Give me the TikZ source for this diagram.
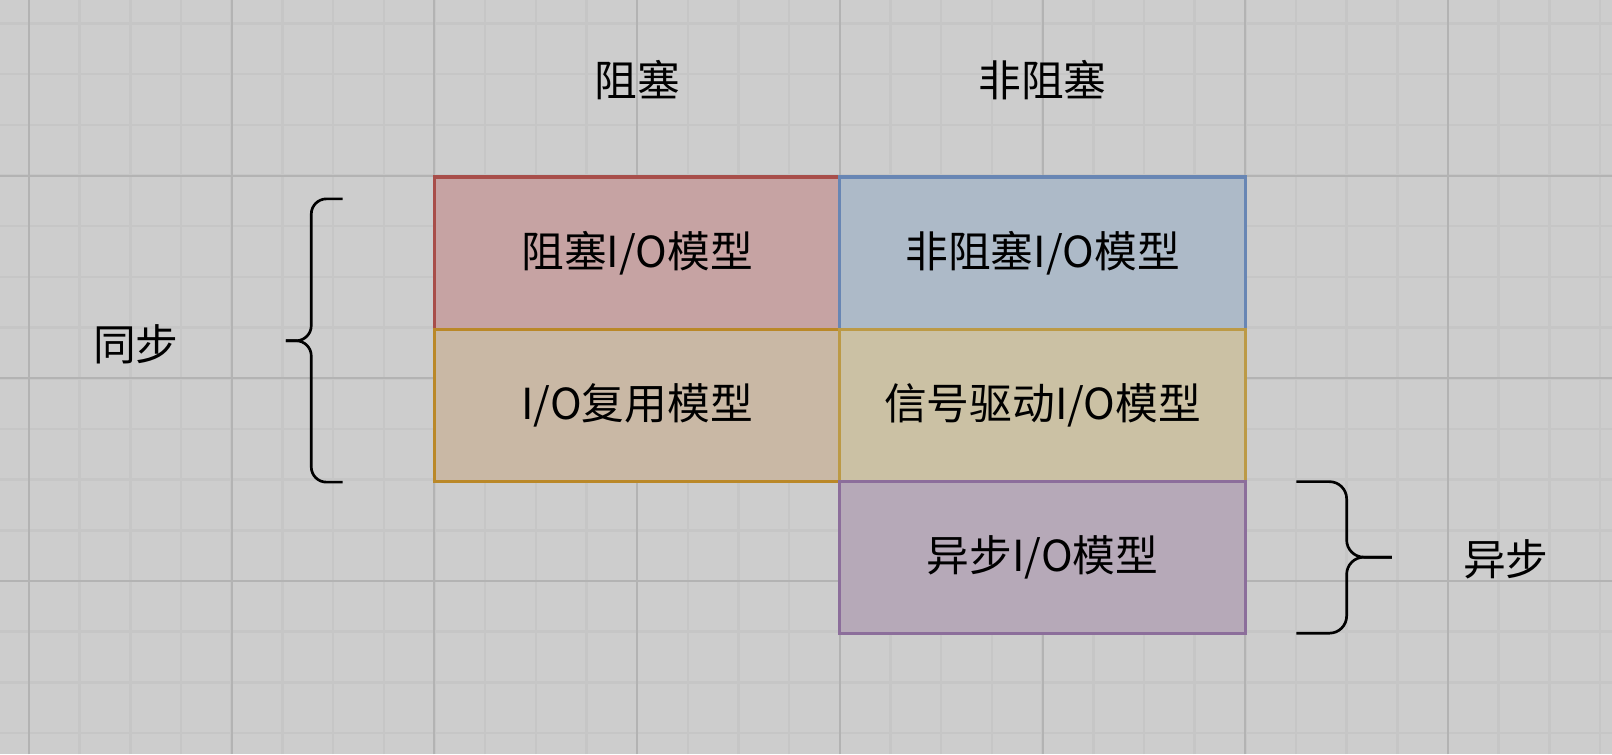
\documentclass[tikz,border=0pt]{standalone}
\usepackage{fontspec}
\setmainfont{Noto Sans CJK SC}
\usepackage{xcolor}
\usepackage{tikz}
\usetikzlibrary{positioning}
\definecolor{canvasbg}{RGB}{205,205,205}
\definecolor{gridminor}{RGB}{198,198,198}
\definecolor{gridmajor}{RGB}{179,179,179}
\definecolor{blockfill}{RGB}{198,163,163}
\definecolor{blockline}{RGB}{168,78,74}
\definecolor{nbfill}{RGB}{173,186,200}
\definecolor{nbline}{RGB}{104,134,180}
\definecolor{muxfill}{RGB}{201,184,165}
\definecolor{muxline}{RGB}{186,136,40}
\definecolor{sigfill}{RGB}{203,193,164}
\definecolor{sigline}{RGB}{188,154,70}
\definecolor{aiofill}{RGB}{182,169,184}
\definecolor{aioline}{RGB}{140,110,155}

\begin{document}
\begin{tikzpicture}[
    font=\fontsize{24}{28}\selectfont,
    cell/.style={minimum width=8cm, minimum height=3cm, inner sep=0pt, outer sep=0pt, line width=1.8pt},
    minorline/.style={gridminor, line width=1.4pt},
    majorline/.style={gridmajor, line width=1.1pt},
    bracket/.style={line width=1.5pt, rounded corners=#1},
    bracket/.default=0.3cm
  ]
    % Canvas
    \fill[canvasbg] (-0.572,-3.414) rectangle (31.236,11.464);
    \useasboundingbox (-0.572,-3.414) rectangle (31.236,11.464);
    \clip (-0.572,-3.414) rectangle (31.236,11.464);

    % Grid
    \foreach \x in {0,...,31}
      \draw[minorline] (\x,-3.414) -- (\x,11.464);
    \foreach \y in {-3,...,11}
      \draw[minorline] (-0.572,\y) -- (31.236,\y);
    \foreach \x in {0,4,...,28}
      \draw[majorline] (\x,-3.414) -- (\x,11.464);
    \foreach \y in {0,4,8}
      \draw[majorline] (-0.572,\y) -- (31.236,\y);

    % Cells
    \node[cell, draw=blockline, fill=blockfill] (blocking) at (12,6.47) {阻塞I/O模型};
    \node[cell, draw=nbline, fill=nbfill, right=0pt of blocking] (nonblocking) {非阻塞I/O模型};
    \node[cell, draw=muxline, fill=muxfill, below=0pt of blocking] (multiplex) {I/O复用模型};
    \node[cell, draw=sigline, fill=sigfill, below=0pt of nonblocking] (signal) {信号驱动I/O模型};
    \node[cell, draw=aioline, fill=aiofill, below=0pt of signal] (asyncio) {异步I/O模型};

    % Headers
    \node (hblocking) at (12,9.89) {阻塞};
    \node (hnonblocking) at (20,9.89) {非阻塞};

    % Braces
    \draw[bracket] (6.19,7.54) -- (5.57,7.54) -- (5.57,4.74) -- (5.07,4.74);
    \draw[bracket] (5.07,4.74) -- (5.57,4.74) -- (5.57,1.95) -- (6.19,1.95);
    \draw[bracket=0.34cm] (25.01,1.96) -- (26.0,1.96) -- (26.0,0.47) -- (26.89,0.47);
    \draw[bracket=0.34cm] (26.89,0.47) -- (26.0,0.47) -- (26.0,-1.03) -- (25.01,-1.03);

    % Labels
    \node (sync) at (2.11,4.68) {同步};
    \node (async) at (29.14,0.43) {异步};
\end{tikzpicture}
\end{document}
